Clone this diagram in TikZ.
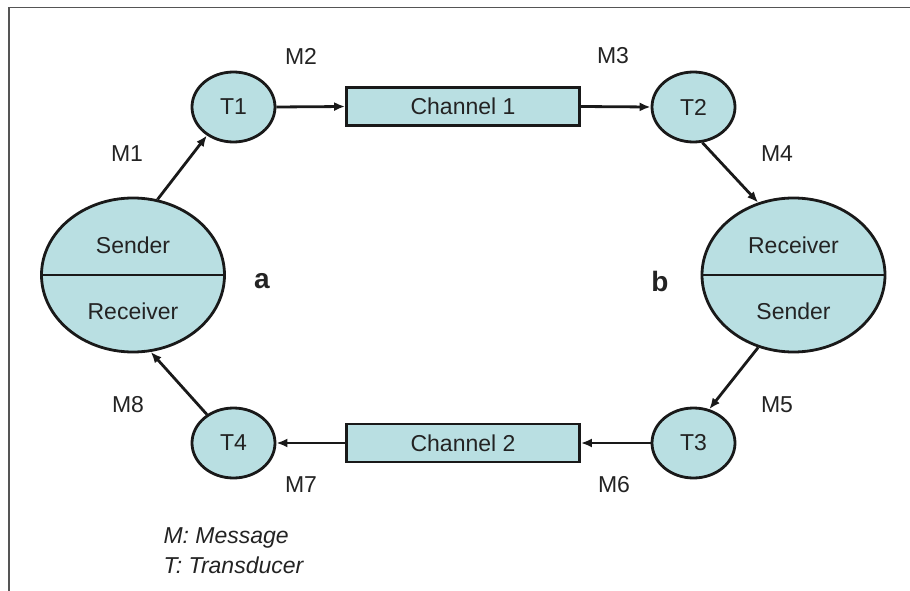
\documentclass[tikz,border=0pt]{standalone}
\usepackage{fontspec}
\setmainfont{Liberation Sans}
\usetikzlibrary{shapes.geometric,arrows.meta}
\definecolor{tealfill}{RGB}{185,223,226}
\definecolor{inkc}{RGB}{25,25,25}
\definecolor{txtc}{RGB}{35,35,35}
\definecolor{framec}{RGB}{85,85,85}
\begin{document}
\begin{tikzpicture}[x=1pt,y=-1pt,
  every node/.style={text=txtc, font=\fontsize{23}{27}\selectfont},
  tnode/.style={ellipse, draw=inkc, fill=tealfill, line width=2.8pt, minimum width=83pt, minimum height=70pt, inner sep=0pt},
  bignode/.style={ellipse, draw=inkc, fill=tealfill, line width=2.8pt, minimum width=183pt, minimum height=154pt, inner sep=0pt},
  chan/.style={rectangle, draw=inkc, fill=tealfill, line width=2.8pt, minimum width=233pt, minimum height=38pt, inner sep=0pt},
  conn/.style={draw=inkc, line width=2.8pt, -{Latex[length=11pt,width=9pt]}},
  mlabel/.style={},
  sidelabel/.style={font=\fontsize{28}{32}\bfseries\selectfont},
  legend/.style={font=\fontsize{23}{28}\itshape\selectfont, anchor=west}
]
\useasboundingbox (0,0) rectangle (910,591);
\draw[framec, line width=1.5pt] (9,591) -- (9,7.5) -- (910,7.5);

\node[bignode] (a) at (133,275) {};
\node[bignode] (b) at (793.5,275) {};
\draw[inkc, line width=2.8pt] (a.west) -- (a.east);
\draw[inkc, line width=2.8pt] (b.west) -- (b.east);
\node (aS) at (133,245) {Sender};
\node (aR) at (133,311) {Receiver};
\node (bR) at (793.5,245) {Receiver};
\node (bS) at (793.5,311) {Sender};

\node[tnode] (t1) at (233.5,107) {T1};
\node[tnode] (t2) at (693.5,107) {T2};
\node[tnode] (t3) at (693.5,443) {T3};
\node[tnode] (t4) at (233.5,443) {T4};

\node[chan] (c1) at (463,106.5) {Channel 1};
\node[chan] (c2) at (463,443) {Channel 2};

\draw[conn] (a.72) -- (t1.227);
\draw[conn] (t1.east) -- (c1.west);
\draw[conn] (c1.east) -- (t2.west);
\draw[conn] (t2.284) -- (b.116);
\draw[conn] (b.244) -- (t3.65);
\draw[conn] (t3.west) -- (c2.east);
\draw[conn] (c2.west) -- (t4.east);
\draw[conn] (t4.133) -- (a.283);

\node[mlabel] (m1) at (127,154) {M1};
\node[mlabel] (m2) at (301,56) {M2};
\node[mlabel] (m3) at (613,56) {M3};
\node[mlabel] (m4) at (777,154) {M4};
\node[mlabel] (m5) at (777,405) {M5};
\node[mlabel] (m6) at (614,485) {M6};
\node[mlabel] (m7) at (301,485) {M7};
\node[mlabel] (m8) at (128,405) {M8};

\node[sidelabel] (la) at (262,281) {a};
\node[sidelabel] (lb) at (660,281) {b};

\node[legend] (lg1) at (160,538) {M: Message};
\node[legend] (lg2) at (160,565) {T: Transducer};
\end{tikzpicture}
\end{document}
